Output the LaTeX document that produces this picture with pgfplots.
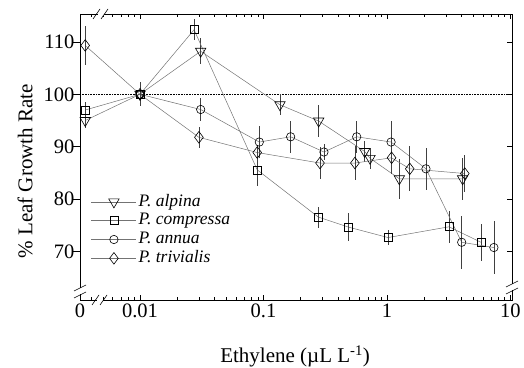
\documentclass[border=0pt]{standalone}
\usepackage{fontspec}
\setmainfont{Liberation Serif}
\usepackage{pgfplots}
\pgfplotsset{compat=1.18}
\pgfplotsset{
  ser/.style={
    draw=black!55, line width=0.5pt,
    mark options={solid, draw=black, fill=white, line width=0.6pt},
    error bars/y dir=both, error bars/y explicit, error bars/error mark=none,
    error bars/error bar style={black!75, line width=0.6pt},
  },
}
\begin{document}
\begin{tikzpicture}[font=\fontsize{20.5}{24}\selectfont]
\begin{axis}[
  scale only axis, width=432pt, height=286pt,
  xmode=log, xmin=0.003266, xmax=10.3, ymin=60.8, ymax=115.3,
  clip=false, name=main,
  /pgf/number format/assume math mode=true,
  axis line style={line width=0.8pt},
  xtick={0.003266,0.01,0.1,1,10}, xticklabels={0,0.01,0.1,1,10},
  minor xtick={0.004,0.005,0.006,0.007,0.008,0.009,0.02,0.03,0.04,0.05,0.06,0.07,0.08,0.09,0.2,0.3,0.4,0.5,0.6,0.7,0.8,0.9,2,3,4,5,6,7,8,9},
  xtick pos=both, xticklabel pos=lower,
  ytick={70,80,90,100,110}, ytick pos=right, yticklabel pos=left,
  yticklabel style={xshift=-2pt},
  tick align=inside, major tick length=5pt, minor tick length=3pt,
  tick style={line width=0.6pt, black},
  xlabel={Ethylene (µL L\textsuperscript{-1})},
  ylabel={\% Leaf Growth Rate},
  label style={font=\fontsize{21}{25}\selectfont},
  xlabel style={at={(axis description cs:0.498,-0.219)}, anchor=base},
  ylabel style={at={(axis description cs:-0.127,0.45)}, anchor=center},
  legend style={at={(axis description cs:0.0185,0.383)}, anchor=north west,
    draw=none, fill=none, font=\fontsize{17.5}{20}\selectfont,
    nodes={inner sep=1pt, text height=12.5pt, text depth=4pt},
    row sep=0.3pt, column sep=1pt},
  legend cell align=left,
  legend image code/.code={\draw[mark repeat=2, mark phase=2, #1] plot coordinates {(0pt,0pt) (22.5pt,0pt) (45pt,0pt)};},
]
\addplot[densely dotted, black, line width=0.6pt, forget plot] coordinates {(0.003266,100) (10.3,100)};

\addplot[ser, mark=triangle, mark size=6pt, mark options={solid, draw=black, fill=white, line width=0.6pt, rotate=180}] table[x=x, y=y, y error=e] {
x y e
0.0036 95.0 1.5
0.01 100 2.3
0.031 108.2 2.5
0.136 98.0 2
0.28 94.9 3
0.66 89.1 2
0.73 87.8 2
1.26 83.9 3.8
4.1 83.9 4
};
\addlegendentry{\textit{P. alpina}}

\addplot[ser, mark=square, mark size=4pt] table[x=x, y=y, y error=e] {
x y e
0.0036 97.0 1.5
0.01 100 2.3
0.0274 112.3 2
0.089 85.6 3
0.278 76.6 2
0.486 74.7 2.7
1.02 72.7 1.5
3.18 74.75 3
5.77 71.8 3.5
};
\addlegendentry{\textit{P. compressa}}

\addplot[ser, mark=o, mark size=4.2pt] table[x=x, y=y, y error=e] {
x y e
0.01 100 2.3
0.031 97.1 2.2
0.0925 90.9 3
0.166 91.9 3
0.309 89.0 1.5
0.569 91.9 3
1.08 90.9 4
2.07 85.8 4
4.03 71.8 5
7.35 70.8 5
};
\addlegendentry{\textit{P. annua}}

\addplot[ser, mark=diamond, mark size=5.8pt] table[x=x, y=y, y error=e] {
x y e
0.0036 109.3 3.7
0.01 100 2.3
0.03 91.8 2
0.089 88.9 1.5
0.287 86.9 3
0.55 86.9 3.3
1.09 87.9 3
1.53 85.8 4.3
4.27 84.9 3.5
};
\addlegendentry{\textit{P. trivialis}}
\end{axis}

\begin{axis}[
  scale only axis, width=432pt, height=286pt,
  xmode=log, xmin=0.003266, xmax=10.3, ymin=60.8, ymax=115.3,
  at={(main.south west)}, anchor=south west,
  axis line style={draw=none},
  xtick=\empty,
  ytick={70,80,90,100,110}, yticklabels={}, ytick pos=left,
  tick align=outside, major tick length=8pt,
  tick style={line width=0.6pt, black},
]
\addplot[draw=none, forget plot] coordinates {(1,100)};
\end{axis}

% axis breaks
\begin{scope}[shift={(main.south west)}]
  \fill[white] (17pt,-2pt) rectangle (23pt,2pt);
  \draw[line width=0.6pt] (12pt,-5pt) -- (19pt,5pt);
  \draw[line width=0.6pt] (20pt,-5pt) -- (27pt,5pt);
  \fill[white] (-2pt,6pt) rectangle (2pt,12pt);
  \draw[line width=0.6pt] (-6pt,2pt) -- (6pt,8pt);
  \draw[line width=0.6pt] (-6pt,9pt) -- (6pt,15pt);
  \fill[white] (430pt,10pt) rectangle (434pt,16pt);
  \draw[line width=0.6pt] (426pt,6pt) -- (438pt,12pt);
  \draw[line width=0.6pt] (426pt,13pt) -- (438pt,19pt);
  \fill[white] (18pt,284pt) rectangle (24pt,288pt);
  \draw[line width=0.6pt] (13pt,281pt) -- (20pt,291pt);
  \draw[line width=0.6pt] (21pt,281pt) -- (28pt,291pt);
\end{scope}

\pgfresetboundingbox
\path[use as bounding box] ([shift={(-80pt,-68pt)}]main.south west) rectangle ([shift={(12pt,14pt)}]main.north east);
\end{tikzpicture}
\end{document}
